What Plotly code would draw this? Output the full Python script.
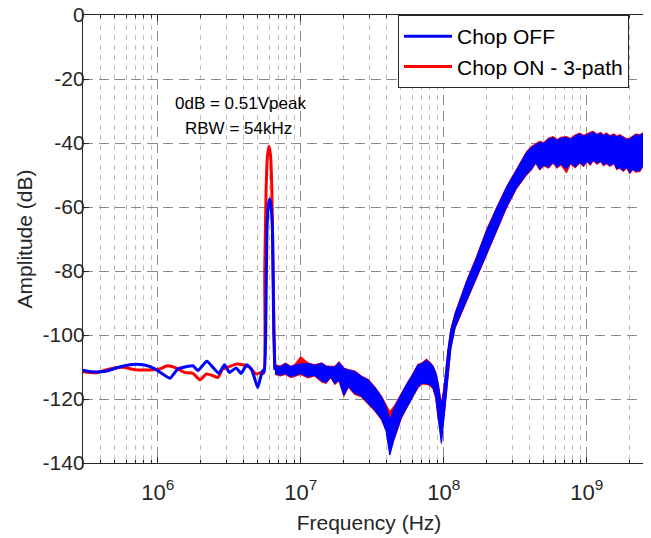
import math
import plotly.graph_objects as go

# ---------------- data ----------------
# clean (low-frequency + tone) part of each spectrum
off_line_freq = [3.0e5, 3.51e5, 4.34e5, 5.39e5, 6.68e5, 8.07e5, 9.48e5, 1.08e6, 1.22e6, 1.38e6,
                 1.58e6, 1.76e6, 1.91e6, 2.2e6, 2.43e6, 2.67e6, 2.93e6, 3.17e6, 3.53e6, 3.83e6,
                 4.19e6, 4.5e6, 4.74e6, 5.0e6, 5.27e6, 5.45e6, 5.57e6, 5.69e6, 5.8e6, 5.95e6,
                 6.07e6, 6.2e6, 6.34e6, 6.47e6, 6.6e6]
off_line_db = [-111.0, -111.5, -111.3, -110.0, -109.2, -109.4, -110.5, -112.2, -113.5, -110.6,
               -109.9, -109.6, -111.1, -108.2, -110.1, -112.0, -109.3, -111.7, -110.3, -112.0,
               -109.3, -110.6, -113.3, -116.4, -112.7, -111.0, -111.5, -98.5, -67.3, -59.0,
               -57.5, -60.0, -67.3, -98.5, -111.0]

on_line_freq = [3.0e5, 3.71e5, 4.6e5, 5.69e5, 7.05e5, 8.75e5, 1.03e6, 1.17e6, 1.34e6, 1.54e6,
                1.76e6, 1.98e6, 2.18e6, 2.43e6, 2.63e6, 2.85e6, 3.17e6, 3.53e6, 3.93e6, 4.38e6,
                4.87e6, 5.27e6, 5.5e6, 5.6e6, 5.72e6, 5.85e6, 6.0e6, 6.15e6, 6.28e6, 6.4e6,
                6.55e6, 6.6e6]
on_line_db = [-111.5, -111.8, -110.6, -110.1, -110.9, -110.9, -110.6, -109.6, -110.3, -111.7,
              -112.0, -114.0, -112.2, -112.7, -113.3, -110.6, -109.9, -109.1, -109.3, -110.1,
              -112.2, -111.7, -112.0, -80.0, -55.0, -44.0, -41.0, -44.0, -55.0, -78.0,
              -108.0, -110.5]

# noisy part: upper / lower envelope of the trace
band_freq = [6.6e6, 7.2e6, 7.8e6, 8.5e6, 9.1e6, 1.0e7, 1.12e7, 1.25e7, 1.40e7, 1.50e7,
             1.62e7, 1.73e7, 1.85e7, 2.0e7, 2.15e7, 2.39e7, 2.65e7, 2.96e7, 3.3e7, 3.66e7,
             3.95e7, 4.19e7, 4.54e7, 5.06e7, 5.5e7, 5.94e7, 6.6e7, 7.0e7, 7.56e7, 8.0e7,
             8.42e7, 8.8e7, 9.12e7, 9.63e7, 1.005e8, 1.07e8, 1.12e8, 1.2e8, 1.29e8, 1.44e8,
             1.69e8, 1.99e8, 2.34e8, 2.74e8, 3.22e8, 3.79e8, 4.1e8, 4.4e8, 4.69e8, 5.0e8,
             5.4e8, 5.81e8, 6.2e8, 6.6e8, 7.2e8, 7.7e8, 8.3e8, 8.93e8, 9.5e8, 1.0e9,
             1.06e9, 1.11e9, 1.18e9, 1.25e9, 1.31e9, 1.37e9, 1.45e9, 1.55e9, 1.62e9, 1.70e9,
             1.8e9, 1.9e9, 2.0e9, 2.1e9, 2.2e9, 2.35e9, 2.5e9, 2.65e9, 2.8e9, 3.0e9]

off_band_hi = [-109.5, -110.0, -109.0, -110.0, -109.4, -109.0, -108.9, -109.5, -108.9, -109.8,
               -110.0, -110.0, -108.7, -110.5, -111.0, -111.5, -113.0, -114.1, -116.5, -119.3,
               -122.5, -126.6, -122.4, -118.3, -115.5, -113.1, -109.4, -109.0, -107.9, -108.8,
               -109.9, -112.0, -115.1, -122.4, -116.5, -104.8, -98.5, -93.5, -89.5, -83.5,
               -76.0, -67.5, -60.5, -54.0, -48.6, -43.0, -41.4, -40.5, -39.8, -40.2,
               -38.8, -38.3, -39.2, -38.5, -38.3, -38.9, -37.8, -37.2, -37.9, -37.5,
               -36.9, -36.7, -37.6, -37.0, -37.8, -37.2, -38.0, -37.5, -38.2, -37.7,
               -38.4, -39.0, -38.8, -38.0, -37.5, -37.7, -37.0, -36.8, -36.7, -37.0]
off_band_lo = [-112.0, -112.5, -112.0, -113.0, -112.6, -112.0, -113.1, -112.5, -114.4, -114.8,
               -113.0, -115.1, -114.0, -118.8, -116.0, -118.3, -119.0, -121.4, -123.5, -126.1,
               -130.0, -137.5, -131.8, -125.6, -122.5, -119.8, -116.2, -115.0, -115.1, -115.5,
               -116.5, -119.5, -125.6, -133.9, -125.0, -113.1, -104.0, -97.5, -94.0, -89.0,
               -82.0, -74.6, -67.3, -60.0, -54.0, -49.7, -48.1, -46.0, -48.1, -46.8,
               -47.5, -46.0, -47.5, -46.5, -48.1, -46.2, -47.4, -46.0, -47.0, -45.5,
               -46.6, -45.2, -46.3, -45.5, -46.8, -46.1, -47.0, -46.2, -48.0, -47.6,
               -48.5, -47.5, -49.2, -48.0, -48.8, -48.6, -46.5, -47.0, -45.5, -45.5]

on_band_hi = [-109.3, -109.7, -108.8, -109.8, -109.2, -106.8, -108.7, -109.3, -108.7, -109.6,
              -109.8, -109.8, -108.4, -110.3, -110.8, -111.3, -112.8, -113.9, -116.3, -119.1,
              -121.8, -124.0, -122.0, -118.1, -115.3, -112.9, -109.2, -108.8, -107.6, -108.5,
              -109.7, -111.8, -114.8, -121.5, -116.2, -104.6, -98.2, -93.2, -89.3, -83.3,
              -75.7, -67.2, -60.2, -53.8, -48.3, -42.8, -41.1, -40.2, -39.5, -39.9,
              -38.5, -38.0, -38.9, -38.2, -38.0, -38.6, -37.5, -36.9, -37.6, -37.2,
              -36.6, -36.4, -37.3, -36.7, -37.5, -36.9, -37.7, -37.2, -37.9, -37.4,
              -38.1, -38.7, -38.5, -37.7, -37.2, -37.4, -36.7, -36.5, -36.4, -36.7]
on_band_lo = [-112.3, -112.8, -112.3, -113.3, -112.9, -112.3, -113.4, -112.8, -114.7, -115.1,
              -113.3, -115.4, -114.3, -119.1, -116.3, -118.6, -119.3, -121.7, -123.8, -126.4,
              -129.5, -130.8, -132.1, -125.9, -122.8, -120.1, -116.5, -115.3, -115.4, -115.8,
              -116.8, -119.8, -125.9, -130.0, -125.3, -113.4, -104.3, -97.8, -94.3, -89.3,
              -82.3, -74.9, -67.6, -60.3, -54.3, -50.0, -48.4, -46.3, -48.4, -47.1,
              -47.8, -46.3, -47.8, -46.8, -49.3, -46.5, -47.7, -46.3, -47.3, -45.8,
              -46.9, -45.5, -46.6, -45.8, -47.1, -46.4, -47.3, -46.5, -48.3, -47.9,
              -48.8, -47.8, -49.5, -48.3, -49.1, -48.9, -46.8, -47.3, -45.8, -45.8]

series_names = ["Chop OFF", "Chop ON - 3-path"]
x_tick_vals = [1e6, 1e7, 1e8, 1e9]
x_tick_text = ["10<sup>6</sup>", "10<sup>7</sup>", "10<sup>8</sup>", "10<sup>9</sup>"]
y_tick_vals = [0, -20, -40, -60, -80, -100, -120, -140]
y_tick_text = ["0", "-20", "-40", "-60", "-80", "-100", "-120", "-140"]
note_lines = ["0dB = 0.51Vpeak", "RBW = 54kHz"]

# ---------------- figure ----------------
FONT = "Liberation Sans, Arial, Helvetica, sans-serif"
TXT = "#262626"
BLUE = "#0000ff"
RED = "#ff0000"

fig = go.Figure()


def add_series(name, color, lf, ldb, hi, lo):
    fig.add_trace(go.Scatter(
        x=band_freq + band_freq[::-1], y=hi + lo[::-1],
        mode="lines", fill="toself", fillcolor=color,
        line=dict(color=color, width=1.2), legendgroup=name,
        showlegend=False, hoverinfo="skip"))
    fig.add_trace(go.Scatter(
        x=lf, y=ldb, mode="lines", name=name, legendgroup=name,
        line=dict(color=color, width=3, shape="spline", smoothing=0.5)))


add_series(series_names[1], RED, on_line_freq, on_line_db, on_band_hi, on_band_lo)
add_series(series_names[0], BLUE, off_line_freq, off_line_db, off_band_hi, off_band_lo)

minor_vals = [m * 10 ** e for e in range(5, 10) for m in range(2, 10)]

# page has an 8px body margin: plot area lands at x 83..655, y 15..463 in the window
PW = 572.0
PH = 448.0

fig.update_layout(
    width=651, height=538,
    margin=dict(l=75, r=4, t=7, b=83, autoexpand=False),
    plot_bgcolor="white", paper_bgcolor="white",
    font=dict(family=FONT, color=TXT),
    legend=dict(x=(398 - 83) / PW, y=1, xanchor="left", yanchor="top",
                traceorder="reversed", bordercolor=TXT, borderwidth=1,
                bgcolor="white", font=dict(size=21, family=FONT, color="black"),
                tracegroupgap=0, itemwidth=48, entrywidth=230, entrywidthmode="pixels"),
    xaxis=dict(
        type="log", range=[math.log10(3e5), math.log10(3e9)],
        tickvals=x_tick_vals, ticktext=x_tick_text,
        ticks="inside", ticklen=6, tickcolor=TXT, automargin=False,
        showline=True, linecolor=TXT, linewidth=1.3, mirror="ticks",
        showgrid=True, gridcolor="#8a8a8a", gridwidth=1, griddash="10px,6px",
        minor=dict(tickvals=minor_vals, ticks="inside", ticklen=3, tickcolor=TXT,
                   showgrid=True, gridcolor="#bcbcbc", gridwidth=1, griddash="5px,5px"),
        tickfont=dict(size=22, family=FONT, color=TXT), ticklabelstandoff=9,
        ticklabeloverflow="allow",
        title=dict(text="Frequency (Hz)", font=dict(size=21, family=FONT, color=TXT), standoff=11),
        zeroline=False,
    ),
    yaxis=dict(
        range=[-140, 0], tickvals=y_tick_vals, ticktext=y_tick_text,
        ticks="inside", ticklen=6, tickcolor=TXT, automargin=False,
        showline=True, linecolor=TXT, linewidth=1.3, mirror="ticks",
        showgrid=True, gridcolor="#8a8a8a", gridwidth=1, griddash="10px,6px",
        tickfont=dict(size=21, family=FONT, color=TXT), ticklabelstandoff=-7,
        ticklabeloverflow="allow",
        title=dict(text="Amplitude (dB)", font=dict(size=21, family=FONT, color=TXT), standoff=4),
        zeroline=False,
    ),
)

fig.add_annotation(text=note_lines[0], xref="paper", yref="paper", xanchor="center",
                   x=(240 - 83) / PW, y=(463 - 92) / PH, showarrow=False,
                   font=dict(size=17, family=FONT, color="black"))
fig.add_annotation(text=note_lines[1], xref="paper", yref="paper", xanchor="center",
                   x=(238 - 83) / PW, y=(463 - 117) / PH, showarrow=False,
                   font=dict(size=17, family=FONT, color="black"))

fig.write_html("out.html")
